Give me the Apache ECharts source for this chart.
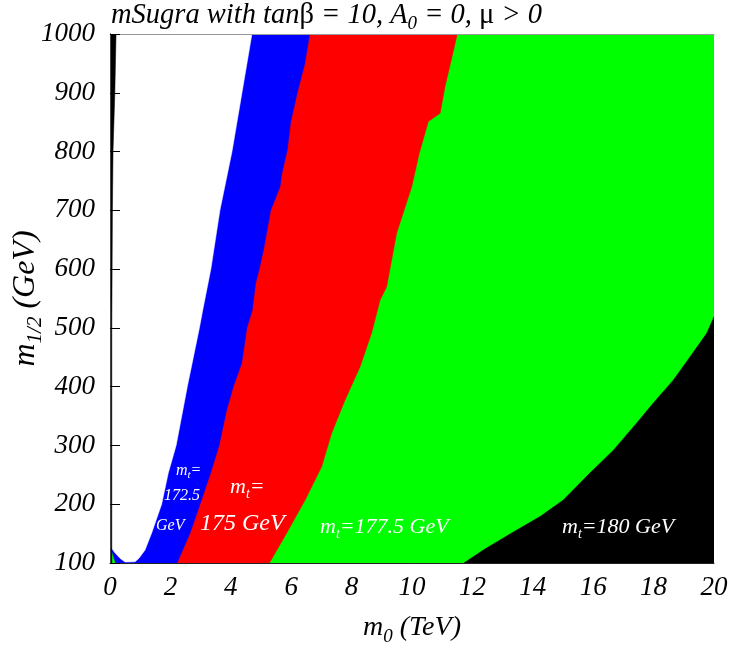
<!DOCTYPE html>
<html>
<head>
<meta charset="utf-8">
<script src="https://cdn.jsdelivr.net/npm/echarts@6/dist/echarts.min.js"></script>
<style>html,body{margin:0;padding:0;background:#fff}#c{width:730px;height:652px}</style>
</head>
<body>
<div id="c"></div>
<script>
// axis ranges / ticks
var xTicks = [0, 2, 4, 6, 8, 10, 12, 14, 16, 18, 20];
var yTicks = [100, 200, 300, 400, 500, 600, 700, 800, 900, 1000];

// region boundaries [m0 (TeV), m1/2 (GeV)]
var fullRegion = [[0, 100], [20, 100], [20, 1000], [0, 1000]];
// mt = 180 GeV region (bottom right)
var black180 = [[11.72, 100], [12.36, 122], [13.30, 151], [14.24, 179], [15.01, 207], [15.89, 253],
  [16.67, 292], [17.44, 338], [17.99, 372], [18.65, 411], [19.21, 451], [19.76, 491], [20, 519], [20, 100]];
// mt = 175 GeV region: red/green boundary
var redEdge = [[5.28, 100], [5.85, 151], [6.46, 207], [7.01, 264], [7.34, 321], [7.78, 377], [8.28, 434],
  [8.66, 491], [8.94, 547], [9.16, 570], [9.49, 661], [9.99, 740], [10.24, 797], [10.54, 851],
  [10.93, 865], [11.09, 910], [11.35, 967], [11.50, 1000]];
// mt = 172.5 GeV region: blue/red boundary
var blueEdge = [[2.22, 100], [2.65, 151], [2.98, 200], [3.33, 253], [3.61, 300], [3.86, 360], [4.08, 400],
  [4.36, 440], [4.53, 500], [4.71, 530], [4.82, 576], [4.94, 600], [5.08, 632], [5.32, 700],
  [5.63, 740], [5.68, 760], [5.87, 803], [5.98, 850], [6.20, 900], [6.45, 950], [6.61, 1000]];
// small green corner
var cornerGreen = [[0, 100], [0.17, 100], [0.05, 119], [0, 119]];
// excluded (white) region
var whiteRegion = [[0, 1000], [4.70, 1000], [4.37, 900], [4.04, 800], [3.64, 700], [3.34, 600], [3.07, 530],
  [2.96, 500], [2.56, 400], [2.19, 300], [1.93, 253], [1.71, 200], [1.38, 151], [1.16, 122], [0.96, 108],
  [0.83, 102], [0.5, 101.5], [0.33, 108], [0.17, 117], [0.05, 125], [0, 130]];
// thin black strip at m0 ~ 0
var blackStrip = [[0, 100], [0.06, 100], [0.06, 500], [0.08, 700], [0.10, 800], [0.16, 900], [0.20, 1000], [0, 1000]];

function closeLeft(edge) {
  return [[0, edge[0][1]]].concat(edge).concat([[0, edge[edge.length - 1][1]]]);
}

var FONT = 'Liberation Serif';
function poly(name, pts, color, z) {
  return {
    type: 'custom', name: name, coordinateSystem: 'cartesian2d', silent: true, z: z, clip: true,
    data: pts,
    renderItem: function (params, api) {
      if (params.dataIndex !== 0) return;
      var p = pts.map(function (d) { return api.coord(d); });
      return { type: 'polygon', shape: { points: p }, style: { fill: color, stroke: color, lineWidth: 0.5 } };
    }
  };
}

function mkRich(size, sub, drop) {
  return {
    i: { fontFamily: FONT, fontStyle: 'italic', fontWeight: 'normal', fontSize: size, lineHeight: size + 2, color: '#000' },
    u: { fontFamily: FONT, fontStyle: 'normal', fontWeight: 'normal', fontSize: size, lineHeight: size + 2, color: '#000' },
    s: { fontFamily: FONT, fontStyle: 'italic', fontWeight: 'normal', fontSize: sub, lineHeight: sub, padding: [drop, 0, 0, 0], color: '#000' }
  };
}
function wrich(size, sub, drop) {
  return {
    i: { fontFamily: FONT, fontStyle: 'italic', fontSize: size, lineHeight: size + 2, fill: '#fff' },
    s: { fontFamily: FONT, fontStyle: 'italic', fontSize: sub, lineHeight: sub, padding: [drop, 0, 0, 0], fill: '#fff' }
  };
}

var chart = echarts.init(document.getElementById('c'));
chart.setOption({
  animation: false,
  backgroundColor: '#fff',
  title: {
    text: '{i|mSugra with tan}{u|β}{i| = 10, A}{s|0}{i| = 0, }{u|μ}{i| > 0}',
    left: 111, top: 0, padding: 0,
    textStyle: { fontWeight: 'normal', rich: mkRich(28.5, 19, 17) }
  },
  grid: { left: 110, right: 16, top: 34, bottom: 89, containLabel: false, outerBoundsMode: 'none' },
  xAxis: [{
    type: 'value', min: xTicks[0], max: xTicks[xTicks.length - 1], interval: 2, z: 10,
    axisLine: { show: true, lineStyle: { color: '#222', width: 1 } },
    axisTick: { show: false }, splitLine: { show: false },
    axisLabel: { fontFamily: FONT, fontStyle: 'italic', fontSize: 27, color: '#000', margin: 11,
      formatter: function (v) { return String(v); } },
    name: '{i|m}{s|0}{i| (TeV)}', nameLocation: 'middle', nameGap: 50, nameMoveOverlap: false,
    nameTextStyle: { rich: mkRich(28, 19, 17) }
  }, {
    type: 'value', position: 'top', min: 0, max: 20, z: 10,
    axisLine: { show: true, lineStyle: { color: '#999', width: 1 } },
    axisTick: { show: false }, axisLabel: { show: false }, splitLine: { show: false }
  }],
  yAxis: [{
    type: 'value', min: yTicks[0], max: yTicks[yTicks.length - 1], interval: 100, z: 10,
    axisLine: { show: true, lineStyle: { color: '#222', width: 1 } },
    axisTick: { show: true, inside: true, length: 10, lineStyle: { color: '#000' } },
    splitLine: { show: false },
    axisLabel: { fontFamily: FONT, fontStyle: 'italic', fontSize: 27, color: '#000', margin: 15,
      formatter: function (v) { return String(v); } },
    name: '{i|m}{s|1/2}{i| (GeV)}', nameLocation: 'middle', nameGap: 67, nameRotate: 90, nameMoveOverlap: false,
    nameTextStyle: { rich: mkRich(32, 21, 19) }
  }, {
    type: 'value', position: 'right', min: 100, max: 1000, z: 10,
    axisLine: { show: true, lineStyle: { color: '#444', width: 1 } },
    axisTick: { show: false }, axisLabel: { show: false }, splitLine: { show: false }
  }],
  series: [
    poly('mt=177.5', fullRegion, '#00ff00', 1),
    poly('mt=180', black180, '#000000', 2),
    poly('mt=175', closeLeft(redEdge), '#ff0000', 3),
    poly('mt=172.5', closeLeft(blueEdge), '#0000ff', 4),
    poly('corner', cornerGreen, '#00ff00', 5),
    poly('excluded', whiteRegion, '#ffffff', 6),
    poly('strip', blackStrip, '#000000', 7)
  ],
  graphic: [
    { type: 'text', left: 176, top: 460, z: 50, style: { text: '{i|m}{s|t}{i|=}', rich: wrich(16, 11, 10) } },
    { type: 'text', left: 164, top: 488, z: 50, style: { text: '{i|172.5}', rich: wrich(16, 11, 10) } },
    { type: 'text', left: 156, top: 518, z: 50, style: { text: '{i|GeV}', rich: wrich(16, 11, 10) } },
    { type: 'text', left: 230, top: 474, z: 50, style: { text: '{i|m}{s|t}{i|=}', rich: wrich(22, 14, 13) } },
    { type: 'text', left: 200, top: 512, z: 50, style: { text: '{i|175 GeV}', rich: wrich(24, 15, 14) } },
    { type: 'text', left: 320, top: 514, z: 50, style: { text: '{i|m}{s|t}{i|=177.5 GeV}', rich: wrich(22, 14, 13) } },
    { type: 'text', left: 562, top: 514, z: 50, style: { text: '{i|m}{s|t}{i|=180 GeV}', rich: wrich(22, 14, 13) } }
  ]
});
</script>
</body>
</html>
